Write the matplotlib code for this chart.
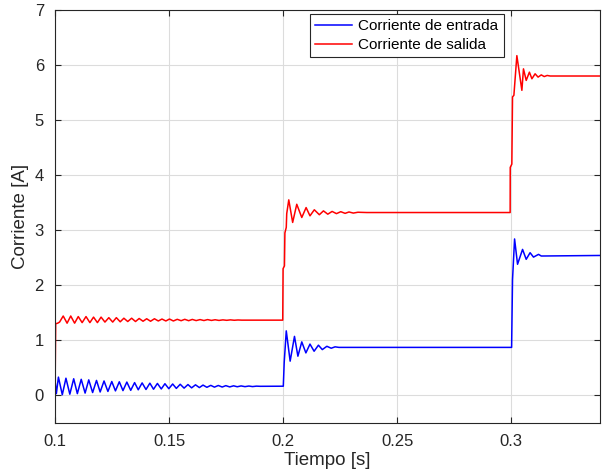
import matplotlib
matplotlib.use("Agg")
import matplotlib.pyplot as plt

plt.rcParams['font.family'] = ['Liberation Sans', 'DejaVu Sans']

# --- data (time [s], current [A]) ---
# input current: start, 0.1-0.2 ripple (peak/trough pairs), step at 0.2, step at 0.3
t_in = [0.1000, 0.1006,
        0.1015, 0.1032, 0.1048, 0.1065, 0.1082, 0.1098, 0.1115, 0.1132,
        0.1148, 0.1165, 0.1182, 0.1198, 0.1215, 0.1232, 0.1249, 0.1265,
        0.1282, 0.1298, 0.1315, 0.1332, 0.1349, 0.1365, 0.1382, 0.1399,
        0.1416, 0.1432, 0.1449, 0.1466, 0.1482, 0.1499, 0.1516, 0.1532,
        0.1549, 0.1566, 0.1583, 0.1599, 0.1616, 0.1633, 0.1649, 0.1666,
        0.1683, 0.1699, 0.1716, 0.1733, 0.1749, 0.1766, 0.1783, 0.1799,
        0.1816, 0.1833, 0.1850, 0.1866, 0.1883, 0.1900,
        0.2001, 0.2005, 0.2014, 0.2031, 0.2050, 0.2065, 0.2082, 0.2100,
        0.2118, 0.2136, 0.2155, 0.2172, 0.2192, 0.2211, 0.2228, 0.2245,
        0.3002, 0.3006, 0.3015, 0.3028, 0.3050, 0.3066, 0.3083, 0.3098,
        0.3120, 0.3132, 0.3390]
i_in = [0.28, 0.03,
        0.33, 0.01, 0.31, 0.02, 0.30, 0.03, 0.29, 0.04,
        0.28, 0.05, 0.27, 0.06, 0.26, 0.07, 0.25, 0.08,
        0.245, 0.085, 0.24, 0.09, 0.23, 0.10, 0.225, 0.105,
        0.22, 0.11, 0.215, 0.115, 0.21, 0.12, 0.205, 0.125,
        0.20, 0.13, 0.195, 0.135, 0.19, 0.14, 0.185, 0.145,
        0.18, 0.148, 0.178, 0.15, 0.175, 0.152, 0.172, 0.155,
        0.17, 0.157, 0.168, 0.158, 0.166, 0.163,
        0.165, 0.60, 1.17, 0.62, 1.07, 0.71, 0.97, 0.77,
        0.93, 0.80, 0.91, 0.83, 0.89, 0.855, 0.88, 0.87,
        0.87, 2.10, 2.84, 2.38, 2.65, 2.47, 2.59, 2.51,
        2.56, 2.53, 2.54]

# output current
t_out = [0.1000, 0.1003, 0.1012, 0.1020,
         0.1036, 0.1053, 0.1069, 0.1086, 0.1102, 0.1119, 0.1136, 0.1153,
         0.1169, 0.1186, 0.1202, 0.1219, 0.1236, 0.1253, 0.1269, 0.1286,
         0.1302, 0.1319, 0.1336, 0.1353, 0.1369, 0.1386, 0.1402, 0.1419,
         0.1436, 0.1453, 0.1469, 0.1486, 0.1502, 0.1519, 0.1536, 0.1553,
         0.1569, 0.1586, 0.1602, 0.1619, 0.1636, 0.1653, 0.1669, 0.1686,
         0.1702, 0.1719, 0.1736, 0.1753, 0.1769, 0.1786, 0.1802, 0.1819,
         0.19985, 0.2000, 0.2006, 0.2008, 0.2014, 0.2016, 0.2025,
         0.2042, 0.2060, 0.2082, 0.2101, 0.2118, 0.2137, 0.2159, 0.2177,
         0.2196, 0.2215, 0.2234, 0.2253, 0.2272, 0.2289, 0.2308, 0.2328,
         0.2367,
         0.29956, 0.2996, 0.3003, 0.3006, 0.3012, 0.3025,
         0.3047, 0.3054, 0.3066, 0.3080, 0.3091, 0.3105, 0.3118, 0.3132,
         0.3145, 0.3158, 0.3171, 0.3390]
i_out = [0.0, 1.30, 1.31, 1.33,
         1.44, 1.31, 1.44, 1.31, 1.43, 1.32, 1.43, 1.32,
         1.42, 1.32, 1.42, 1.33, 1.41, 1.33, 1.41, 1.335,
         1.40, 1.34, 1.40, 1.34, 1.395, 1.345, 1.39, 1.345,
         1.39, 1.35, 1.385, 1.35, 1.385, 1.35, 1.38, 1.355,
         1.38, 1.355, 1.378, 1.357, 1.375, 1.358, 1.375, 1.36,
         1.372, 1.36, 1.37, 1.362, 1.37, 1.363, 1.368, 1.365,
         1.365, 2.30, 2.35, 2.95, 3.05, 3.30, 3.55,
         3.14, 3.47, 3.23, 3.41, 3.26, 3.37, 3.28, 3.35,
         3.29, 3.34, 3.30, 3.335, 3.305, 3.33, 3.31, 3.325,
         3.32,
         3.32, 4.14, 4.20, 5.42, 5.45, 6.17,
         5.54, 5.93, 5.72, 5.87, 5.75, 5.84, 5.78, 5.82,
         5.79, 5.81, 5.80, 5.80]

x_ticks = [0.1, 0.15, 0.2, 0.25, 0.3]
x_labels = ['0.1', '0.15', '0.2', '0.25', '0.3']
y_ticks = [0, 1, 2, 3, 4, 5, 6, 7]

fig = plt.figure(figsize=(6.03, 4.74), dpi=100)
ax = fig.add_axes([0.0912, 0.108, 0.904, 0.871])

ax.plot(t_in, i_in, color='b', lw=1.1, label='Corriente de entrada')
ax.plot(t_out, i_out, color='r', lw=1.1, label='Corriente de salida')

ax.set_xlim(0.1, 0.339)
ax.set_ylim(-0.5, 7)
ax.set_xticks(x_ticks)
ax.set_xticklabels(x_labels)
ax.set_yticks(y_ticks)

# matlab-ish look
ax.grid(True, color='#dcdcdc', lw=0.8)
ax.set_axisbelow(True)
ax.tick_params(direction='in', top=True, right=True, length=4,
               labelsize=12, colors='#262626', pad=8)
for s in ax.spines.values():
    s.set_color('#262626')
    s.set_linewidth(0.8)

ax.set_xlabel('Tiempo [s]', fontsize=13.5, color='#262626', labelpad=2)
ax.set_ylabel('Corriente [A]', fontsize=13.5, color='#262626', labelpad=4)

leg = ax.legend(loc='upper left', bbox_to_anchor=(0.468, 0.99),
                fontsize=11, fancybox=False, framealpha=1,
                edgecolor='#262626', handlelength=2.4, borderpad=0.35,
                labelspacing=0.3, handletextpad=0.4, borderaxespad=0)
leg.get_frame().set_linewidth(0.8)

fig.savefig('out.png', dpi=100)
